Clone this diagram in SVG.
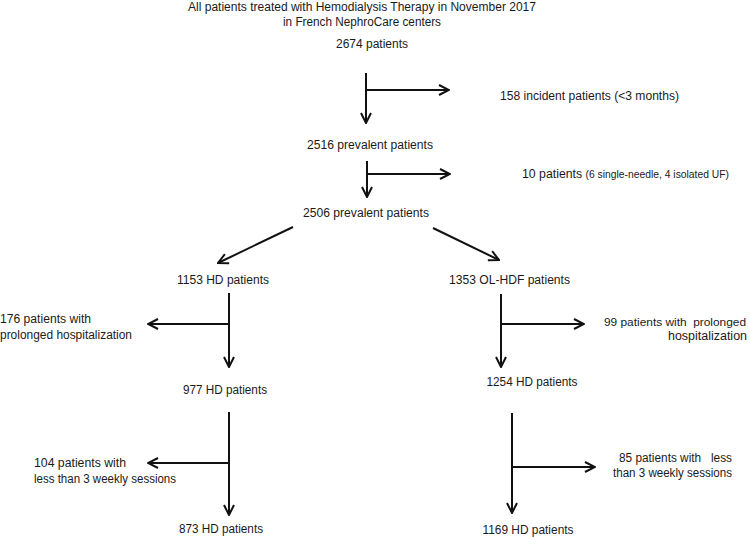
<svg xmlns="http://www.w3.org/2000/svg" width="750" height="537" viewBox="0 0 750 537">
<style>
text{font-family:"Liberation Sans",Arial,sans-serif;font-size:12.5px;fill:#1a1a1a;white-space:pre}
.c{text-anchor:middle}
.e{text-anchor:end}
.sm{font-size:10.5px}
.ln{stroke:#111;stroke-width:2;fill:none}
</style>
<defs>
<marker id="ah" viewBox="0 0 12 12" refX="11" refY="6" markerWidth="12" markerHeight="12" markerUnits="userSpaceOnUse" orient="auto">
<path d="M1,1 L11,6 L1,11" fill="none" stroke="#111" stroke-width="2"/>
</marker>
</defs>
<rect width="750" height="537" fill="#fff"/>
<g id="connectors">
<path class="ln" d="M366,73 V123" marker-end="url(#ah)"/>
<path class="ln" d="M366,90 H449" marker-end="url(#ah)"/>
<path class="ln" d="M367,161 V197" marker-end="url(#ah)"/>
<path class="ln" d="M367,174 H450" marker-end="url(#ah)"/>
<path class="ln" d="M293,227 L218,263" marker-end="url(#ah)"/>
<path class="ln" d="M433,228 L499,260" marker-end="url(#ah)"/>
<path class="ln" d="M229,293 V367" marker-end="url(#ah)"/>
<path class="ln" d="M229,324 H148" marker-end="url(#ah)"/>
<path class="ln" d="M229,412 V515" marker-end="url(#ah)"/>
<path class="ln" d="M229,463 H148" marker-end="url(#ah)"/>
<path class="ln" d="M501,294 V367" marker-end="url(#ah)"/>
<path class="ln" d="M501,324 H584" marker-end="url(#ah)"/>
<path class="ln" d="M512,413 V513" marker-end="url(#ah)"/>
<path class="ln" d="M512,467 H595" marker-end="url(#ah)"/>
</g>
<g id="title"><text class="c" x="362" y="11" textLength="348" lengthAdjust="spacingAndGlyphs">All patients treated with Hemodialysis Therapy in November 2017</text><text class="c" x="362" y="26" textLength="158" lengthAdjust="spacingAndGlyphs">in French NephroCare centers</text></g>
<g id="n2674"><text class="c" x="372" y="48" textLength="72" lengthAdjust="spacingAndGlyphs">2674 patients</text></g>
<g id="n158"><text x="500" y="100" textLength="179" lengthAdjust="spacingAndGlyphs">158 incident patients (&lt;3 months)</text></g>
<g id="n2516"><text class="c" x="370" y="149" textLength="126" lengthAdjust="spacingAndGlyphs">2516 prevalent patients</text></g>
<g id="n10"><text x="522" y="178" textLength="207" lengthAdjust="spacingAndGlyphs">10 patients <tspan class="sm">(6 single-needle, 4 isolated UF)</tspan></text></g>
<g id="n2506"><text class="c" x="366" y="217" textLength="126" lengthAdjust="spacingAndGlyphs">2506 prevalent patients</text></g>
<g id="n1153"><text class="c" x="223" y="284" textLength="92" lengthAdjust="spacingAndGlyphs">1153 HD patients</text></g>
<g id="n1353"><text class="c" x="509.5" y="284" textLength="121" lengthAdjust="spacingAndGlyphs">1353 OL-HDF patients</text></g>
<g id="n176"><text x="0" y="323" textLength="91" lengthAdjust="spacingAndGlyphs">176 patients with</text><text x="0" y="339" textLength="132" lengthAdjust="spacingAndGlyphs">prolonged hospitalization</text></g>
<g id="n99"><text class="e" x="746" y="326" style="font-size:11.8px" textLength="142" lengthAdjust="spacingAndGlyphs">99 patients with  prolonged</text><text class="e" x="747" y="340" textLength="79" lengthAdjust="spacingAndGlyphs">hospitalization</text></g>
<g id="n977"><text class="c" x="225" y="394" textLength="84" lengthAdjust="spacingAndGlyphs">977 HD patients</text></g>
<g id="n1254"><text class="c" x="532" y="386" textLength="91" lengthAdjust="spacingAndGlyphs">1254 HD patients</text></g>
<g id="n104"><text x="34" y="467" textLength="92" lengthAdjust="spacingAndGlyphs">104 patients with</text><text x="34" y="483" textLength="142" lengthAdjust="spacingAndGlyphs">less than 3 weekly sessions</text></g>
<g id="n85"><text class="e" x="732" y="462" textLength="113" lengthAdjust="spacingAndGlyphs">85 patients with   less</text><text class="e" x="732" y="477" textLength="119" lengthAdjust="spacingAndGlyphs">than 3 weekly sessions</text></g>
<g id="n873"><text class="c" x="221" y="533" textLength="84" lengthAdjust="spacingAndGlyphs">873 HD patients</text></g>
<g id="n1169"><text class="c" x="528" y="534" textLength="91" lengthAdjust="spacingAndGlyphs">1169 HD patients</text></g>
</svg>
